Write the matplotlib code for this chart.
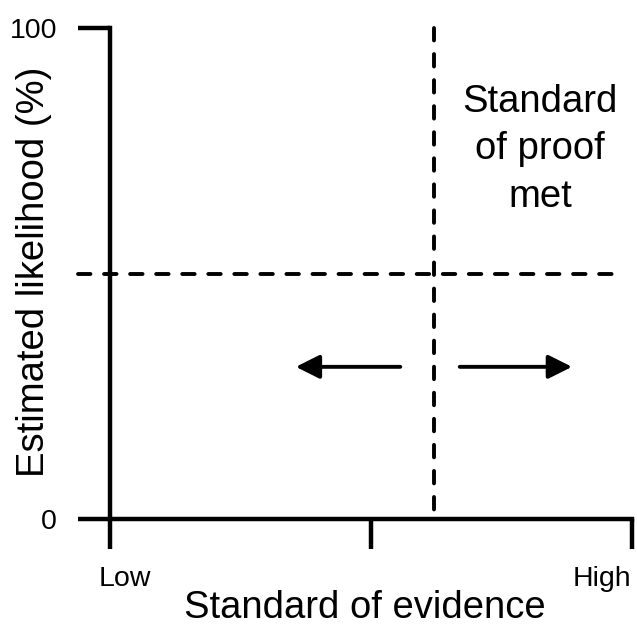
import matplotlib.pyplot as plt

plt.rcParams['font.family'] = ['Liberation Sans', 'DejaVu Sans']

# positions on the evidence axis (0 = low, 1 = high)
x_ticks = [0.0, 0.5, 1.0]
x_tick_labels = ['Low', 'High']
x_label_pos = [0.029, 0.943]
y_ticks = [0, 100]
y_tick_labels = ['0', '100']

threshold_x = 0.62      # standard of evidence where proof is met
threshold_y = 50        # estimated likelihood threshold
hline_span = [-0.061, 0.975]
vline_span = [100, 0]   # drawn top-down so the dashes start at the top

arrow_y = 31
left_arrow = [0.556, 0.356]    # tail, head
right_arrow = [0.670, 0.885]

fig = plt.figure(figsize=(6.37, 6.26), dpi=100)
ax = fig.add_axes([0.1071, 0.1081, 0.8851, 0.8628])
ax.set_xlim(-0.08, 1.0)
ax.set_ylim(-8, 102)

for side in ['top', 'right']:
    ax.spines[side].set_visible(False)
ax.spines['left'].set_position(('data', 0))
ax.spines['bottom'].set_position(('data', 0))
ax.spines['left'].set_bounds(0, 100)
ax.spines['bottom'].set_bounds(0, 1)
for side in ['left', 'bottom']:
    ax.spines[side].set_linewidth(3.2)
    ax.spines[side].set_capstyle('projecting')

ax.set_xticks(x_ticks, ['', '', ''])
ax.set_xticks(x_label_pos, x_tick_labels, minor=True)
ax.set_yticks(y_ticks, y_tick_labels)
ax.tick_params(axis='x', which='major', direction='out', length=21.6, width=3.2)
ax.tick_params(axis='x', which='minor', length=0, pad=34, labelsize=20.5)
ax.tick_params(axis='y', direction='out', length=23, width=3.2, pad=15, labelsize=20.5)

# threshold lines
dash = (0, (3.2, 3.5))
ax.plot(hline_span, [threshold_y, threshold_y], color='black', lw=2.8,
        linestyle=dash, dash_capstyle='round', clip_on=False)
ax.plot([threshold_x, threshold_x], vline_span, color='black', lw=2.8,
        linestyle=dash, dash_capstyle='round', clip_on=False)

# arrows
for tail, head in [left_arrow, right_arrow]:
    ax.annotate('', xy=(head, arrow_y), xytext=(tail, arrow_y),
                arrowprops=dict(arrowstyle='-|>,head_length=0.4,head_width=0.2',
                                mutation_scale=36, lw=2.8, color='black',
                                shrinkA=0, shrinkB=0))

ax.text(0.824, 75.3, 'Standard\nof proof\nmet', ha='center', va='center',
        fontsize=27.5, linespacing=1.42)

ax.set_xlabel('Standard of evidence', fontsize=27.5)
ax.xaxis.set_label_coords(0.526, -0.1106)
ax.xaxis.label.set_va('baseline')

ax.text(-0.06, 0.530, 'Estimated likelihood (%)', transform=ax.transAxes,
        rotation=90, ha='center', va='center', fontsize=27.5)

fig.savefig('out.png', dpi=100)
